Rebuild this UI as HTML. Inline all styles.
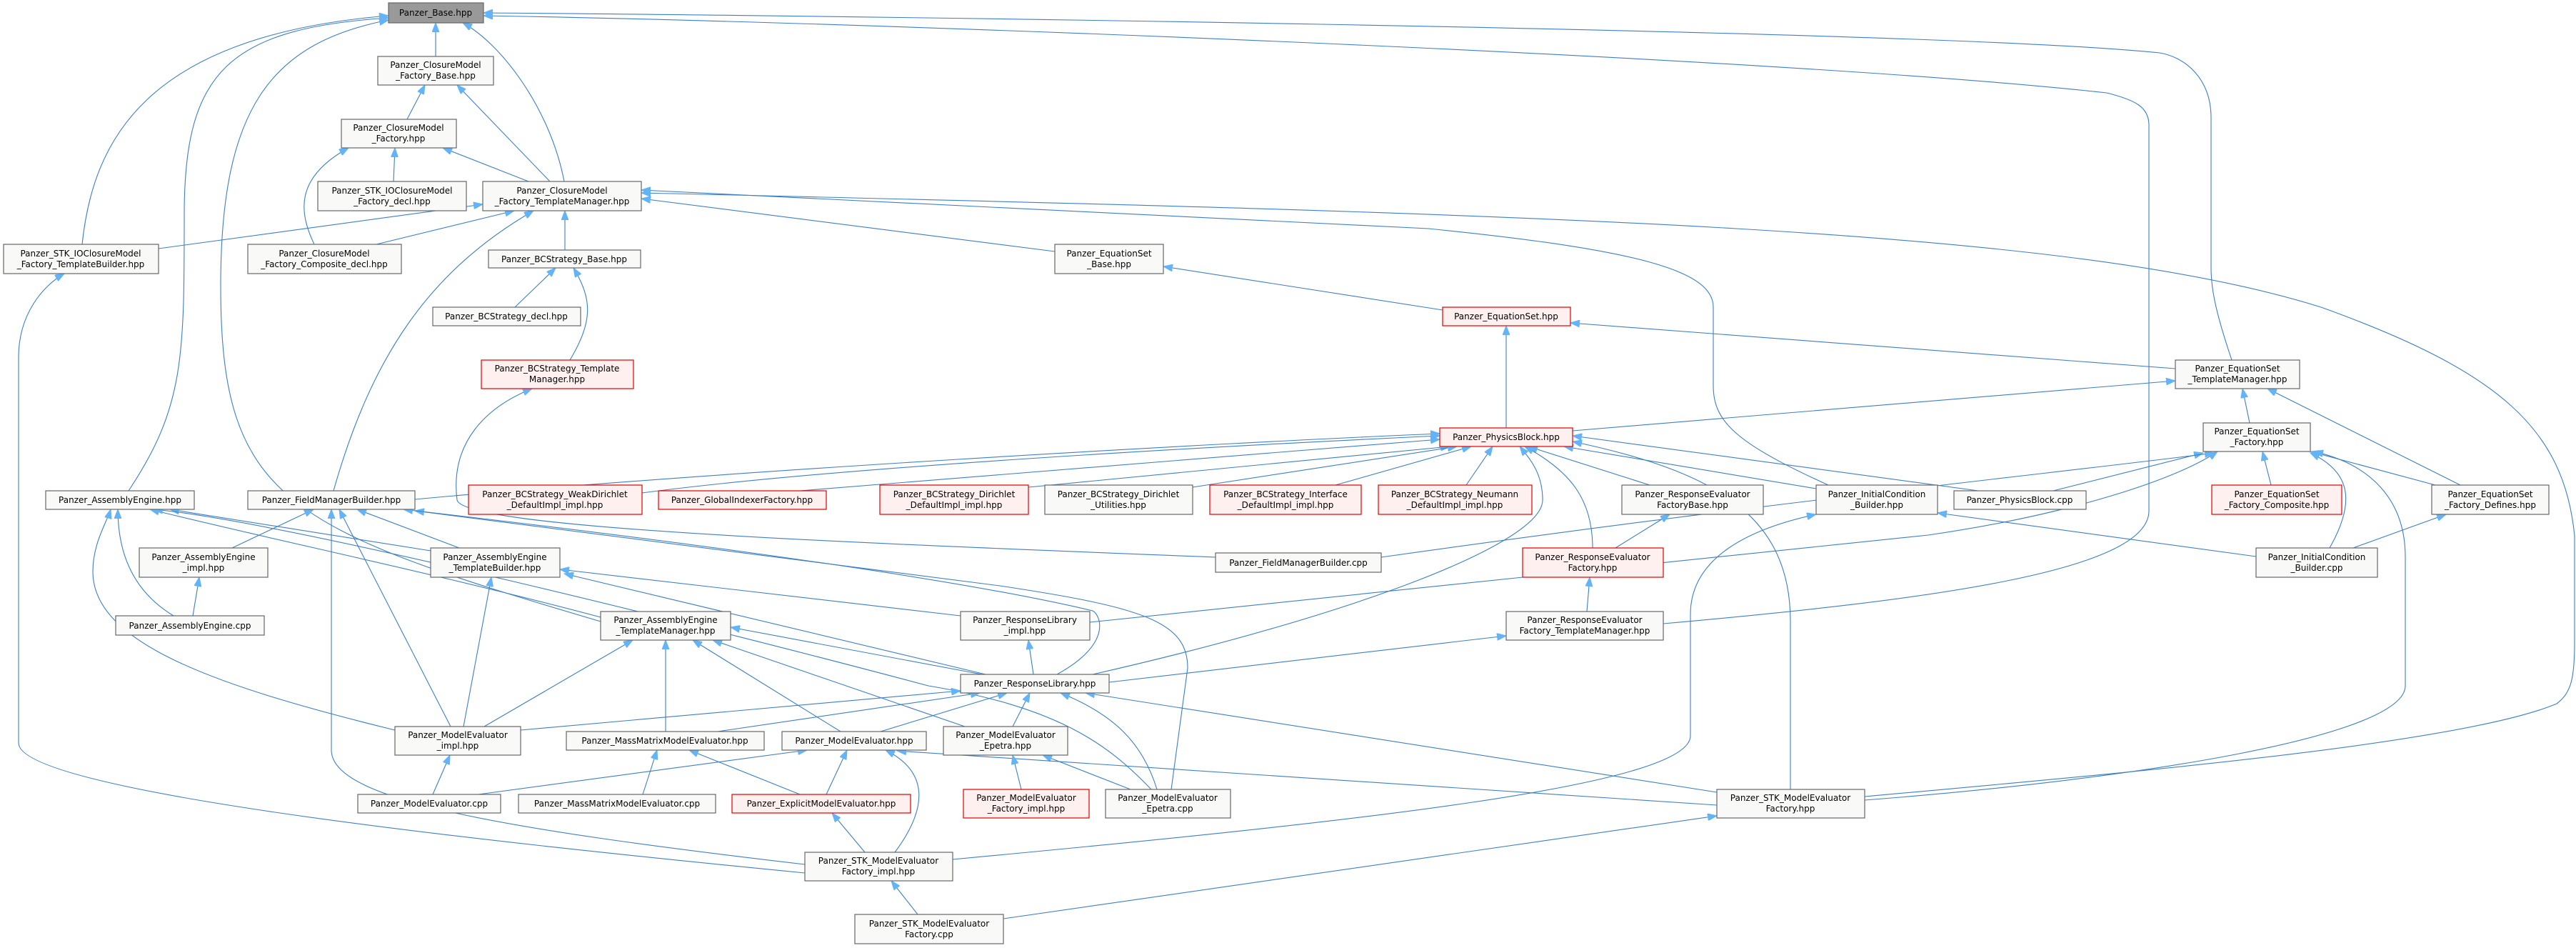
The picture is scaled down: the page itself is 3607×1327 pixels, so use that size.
<!DOCTYPE html>
<html><head><meta charset="utf-8"><style>
html,body{margin:0;padding:0;background:#fff;}
svg{display:block;}
text{font-family:"DejaVu Sans","Liberation Sans",sans-serif;font-size:12px;fill:#000;text-anchor:middle;}
.n{fill:#f9faf8;stroke:#666;stroke-width:1.2;}
.r{fill:#fff0f0;stroke:#e00000;stroke-width:1.2;}
.g{fill:#999;stroke:#666;stroke-width:1.2;}
path{fill:none;stroke:#3d7fc4;stroke-width:1.1;marker-end:url(#a);}
</style></head><body>
<svg width="3607" height="1327" viewBox="0 0 3607 1327" xmlns="http://www.w3.org/2000/svg">
<defs><marker id="a" markerUnits="userSpaceOnUse" markerWidth="14" markerHeight="10" refX="13" refY="5" orient="auto"><path d="M0,0 L13,5 L0,10 Z" style="fill:#63b3f7;stroke:#63b3f7;stroke-width:1;marker-end:none"/></marker></defs>

<!-- edges -->
<path d="M610,79 L610,32"/>
<path d="M790,254 C770,150 700,60 648,32"/>
<path d="M115,342 C130,200 200,50 544,22"/>
<path d="M180,687 C258,570 258,500 258,300 C258,100 320,40 544,25"/>
<path d="M841,870 C400,740 309,700 309,400 C309,150 380,60 544,28"/>
<path d="M3125,504 C3100,430 3096,400 3096,375 L3096,165 C3096,110 3060,80 3024,74 C2700,40 1000,20 677,18"/>
<path d="M2329,873 C2700,840 3009,800 3009,715 L3009,175 C3009,150 2990,140 2950,130 C2500,80 1200,30 677,22"/>
<path d="M770,254 L640,119"/>
<path d="M570,167 L595,119"/>
<path d="M551,254 L553,207"/>
<path d="M740,254 L620,207"/>
<path d="M440,342 C420,300 410,250 488,207"/>
<path d="M222,348 L676,286"/>
<path d="M527,342 L720,295"/>
<path d="M467,687 C520,500 600,380 747,295"/>
<path d="M791,350 L791,295"/>
<path d="M1477,352 L898,278"/>
<path d="M2560,679 C2430,620 2399,590 2399,540 L2399,430 C2399,380 2300,350 2000,320 L898,266"/>
<path d="M2611,1115 C3000,1080 3450,1040 3580,985 C3600,970 3605,950 3605,900 L3605,750 C3590,600 3500,520 3250,430 C2900,320 2200,300 898,270"/>
<path d="M721,430 L778,375"/>
<path d="M798,504 C830,450 830,420 803,375"/>
<path d="M1702,780 C1200,760 650,740 640,700 C630,620 680,570 745,544"/>
<path d="M2020,434 L1629,373"/>
<path d="M2109,599 L2109,456"/>
<path d="M3046,516 L2199,452"/>
<path d="M2202,603 L3046,533"/>
<path d="M3150,592 L3140,544"/>
<path d="M3445,679 L3175,544"/>
<path d="M3180,679 L3168,632"/>
<path d="M3410,679 L3235,632"/>
<path d="M2875,687 L3085,634"/>
<path d="M3262,767 C3300,700 3290,660 3235,634"/>
<path d="M3295,767 L3425,720"/>
<path d="M3159,779 L2713,718"/>
<path d="M1934,780 C2500,700 2900,660 3100,634"/>
<path d="M2611,1120 C3000,1090 3368,1030 3368,960 L3368,780 C3368,700 3320,650 3240,632"/>
<path d="M1526,871 L2700,749 C2900,720 3050,670 3105,632"/>
<path d="M1334,1203 C1900,1150 2367,1100 2367,1030 L2367,860 C2367,780 2450,740 2543,720"/>
<path d="M899,690 C1200,650 1800,620 2016,610"/>
<path d="M1120,687 L2016,615"/>
<path d="M1440,682 L2030,625"/>
<path d="M1670,682 L2040,625"/>
<path d="M1870,679 L2060,625"/>
<path d="M2053,679 L2090,625"/>
<path d="M2310,679 L2140,625"/>
<path d="M2543,684 L2190,625"/>
<path d="M2770,687 L2202,610"/>
<path d="M581,699 C1000,660 1700,620 2016,607"/>
<path d="M1530,944 C1900,860 2160,760 2160,700 C2160,660 2140,640 2128,625"/>
<path d="M2230,767 C2230,700 2200,660 2135,625"/>
<path d="M2507,1105 L2507,870 C2507,720 2400,660 2202,618"/>
<path d="M2262,767 L2338,720"/>
<path d="M2222,856 L2226,808"/>
<path d="M325,767 L439,713"/>
<path d="M270,862 L279,808"/>
<path d="M243,862 C190,830 165,780 165,713"/>
<path d="M553,1022 C300,960 130,900 130,800 C130,760 150,730 155,713"/>
<path d="M603,771 L238,713"/>
<path d="M841,864 C600,800 400,760 210,713"/>
<path d="M643,767 L500,713"/>
<path d="M631,1017 L475,713"/>
<path d="M1127,1210 C700,1160 464,1120 464,1050 L464,713"/>
<path d="M1345,862 L784,797"/>
<path d="M1380,944 L790,803"/>
<path d="M649,1017 L688,808"/>
<path d="M678,1017 L886,896"/>
<path d="M932,1024 L932,896"/>
<path d="M1177,1024 L970,896"/>
<path d="M1351,1017 L998,896"/>
<path d="M1375,944 L1023,878"/>
<path d="M1612,1105 C1550,1040 1480,990 1300,960 C1000,880 400,730 215,713"/>
<path d="M1640,1105 L1663,935 C1663,870 1600,850 1400,820 C1000,770 700,730 581,715"/>
<path d="M1480,944 C1560,900 1540,860 1530,855 C1300,800 800,740 565,713"/>
<path d="M1620,1105 C1600,1040 1560,1000 1485,970"/>
<path d="M1583,1105 L1460,1057"/>
<path d="M2404,1127 L1256,1051"/>
<path d="M1430,1105 L1418,1057"/>
<path d="M1418,1017 L1442,970"/>
<path d="M1233,1024 L1410,970"/>
<path d="M1005,1024 L1372,970"/>
<path d="M729,1022 L1345,967"/>
<path d="M2404,1109 L1520,970"/>
<path d="M1447,944 L1440,896"/>
<path d="M1553,955 L2109,890"/>
<path d="M1253,1193 C1300,1130 1300,1080 1240,1050"/>
<path d="M1211,1193 L1165,1138"/>
<path d="M1157,1112 L1186,1050"/>
<path d="M1120,1112 L965,1050"/>
<path d="M606,1112 L630,1057"/>
<path d="M670,1112 L1130,1050"/>
<path d="M900,1112 L920,1050"/>
<path d="M1285,1280 L1248,1233"/>
<path d="M1405,1286 L2404,1142"/>
<path d="M1127,1222 C700,1180 26,1110 26,1040 L26,500 C26,440 60,400 90,383"/>

<!-- nodes -->
<rect class="g" x="544" y="4" width="133" height="28"/><text x="610" y="22">Panzer_Base.hpp</text>
<rect class="n" x="529" y="79" width="162" height="40"/><text x="610" y="95">Panzer_ClosureModel</text><text x="610" y="110">_Factory_Base.hpp</text>
<rect class="n" x="478" y="167" width="161" height="40"/><text x="558" y="183">Panzer_ClosureModel</text><text x="558" y="198">_Factory.hpp</text>
<rect class="n" x="445" y="254" width="208" height="41"/><text x="549" y="271">Panzer_STK_IOClosureModel</text><text x="549" y="286">_Factory_decl.hpp</text>
<rect class="n" x="676" y="254" width="222" height="41"/><text x="787" y="271">Panzer_ClosureModel</text><text x="787" y="286">_Factory_TemplateManager.hpp</text>
<rect class="n" x="5" y="342" width="217" height="41"/><text x="113" y="359">Panzer_STK_IOClosureModel</text><text x="113" y="374">_Factory_TemplateBuilder.hpp</text>
<rect class="n" x="347" y="342" width="215" height="41"/><text x="454" y="359">Panzer_ClosureModel</text><text x="454" y="374">_Factory_Composite_decl.hpp</text>
<rect class="n" x="684" y="350" width="213" height="25"/><text x="790" y="367">Panzer_BCStrategy_Base.hpp</text>
<rect class="n" x="606" y="430" width="207" height="26"/><text x="709" y="447">Panzer_BCStrategy_decl.hpp</text>
<rect class="r" x="674" y="504" width="213" height="40"/><text x="780" y="520">Panzer_BCStrategy_Template</text><text x="780" y="535">Manager.hpp</text>
<rect class="n" x="1477" y="342" width="152" height="41"/><text x="1553" y="359">Panzer_EquationSet</text><text x="1553" y="374">_Base.hpp</text>
<rect class="r" x="2020" y="430" width="179" height="26"/><text x="2109" y="447">Panzer_EquationSet.hpp</text>
<rect class="n" x="3046" y="504" width="174" height="40"/><text x="3133" y="520">Panzer_EquationSet</text><text x="3133" y="535">_TemplateManager.hpp</text>
<rect class="r" x="2016" y="599" width="186" height="26"/><text x="2109" y="616">Panzer_PhysicsBlock.hpp</text>
<rect class="n" x="3085" y="592" width="150" height="40"/><text x="3160" y="608">Panzer_EquationSet</text><text x="3160" y="623">_Factory.hpp</text>
<rect class="n" x="64" y="687" width="208" height="26"/><text x="168" y="704">Panzer_AssemblyEngine.hpp</text>
<rect class="n" x="347" y="687" width="234" height="26"/><text x="464" y="704">Panzer_FieldManagerBuilder.hpp</text>
<rect class="r" x="656" y="679" width="243" height="41"/><text x="777" y="696">Panzer_BCStrategy_WeakDirichlet</text><text x="777" y="711">_DefaultImpl_impl.hpp</text>
<rect class="r" x="922" y="687" width="235" height="26"/><text x="1039" y="704">Panzer_GlobalIndexerFactory.hpp</text>
<rect class="r" x="1232" y="679" width="208" height="41"/><text x="1336" y="696">Panzer_BCStrategy_Dirichlet</text><text x="1336" y="711">_DefaultImpl_impl.hpp</text>
<rect class="n" x="1463" y="679" width="207" height="41"/><text x="1566" y="696">Panzer_BCStrategy_Dirichlet</text><text x="1566" y="711">_Utilities.hpp</text>
<rect class="r" x="1694" y="679" width="212" height="41"/><text x="1800" y="696">Panzer_BCStrategy_Interface</text><text x="1800" y="711">_DefaultImpl_impl.hpp</text>
<rect class="r" x="1930" y="679" width="215" height="41"/><text x="2037" y="696">Panzer_BCStrategy_Neumann</text><text x="2037" y="711">_DefaultImpl_impl.hpp</text>
<rect class="n" x="2271" y="679" width="198" height="41"/><text x="2370" y="696">Panzer_ResponseEvaluator</text><text x="2370" y="711">FactoryBase.hpp</text>
<rect class="n" x="2543" y="679" width="170" height="41"/><text x="2628" y="696">Panzer_InitialCondition</text><text x="2628" y="711">_Builder.hpp</text>
<rect class="n" x="2736" y="687" width="185" height="26"/><text x="2828" y="704">Panzer_PhysicsBlock.cpp</text>
<rect class="r" x="3097" y="679" width="182" height="41"/><text x="3188" y="696">Panzer_EquationSet</text><text x="3188" y="711">_Factory_Composite.hpp</text>
<rect class="n" x="3405" y="679" width="164" height="41"/><text x="3487" y="696">Panzer_EquationSet</text><text x="3487" y="711">_Factory_Defines.hpp</text>
<rect class="n" x="195" y="767" width="180" height="41"/><text x="285" y="784">Panzer_AssemblyEngine</text><text x="285" y="799">_impl.hpp</text>
<rect class="n" x="603" y="767" width="181" height="41"/><text x="693" y="784">Panzer_AssemblyEngine</text><text x="693" y="799">_TemplateBuilder.hpp</text>
<rect class="n" x="1702" y="774" width="232" height="27"/><text x="1818" y="792">Panzer_FieldManagerBuilder.cpp</text>
<rect class="r" x="2132" y="767" width="197" height="41"/><text x="2230" y="784">Panzer_ResponseEvaluator</text><text x="2230" y="799">Factory.hpp</text>
<rect class="n" x="3159" y="767" width="170" height="41"/><text x="3244" y="784">Panzer_InitialCondition</text><text x="3244" y="799">_Builder.cpp</text>
<rect class="n" x="162" y="862" width="208" height="27"/><text x="266" y="880">Panzer_AssemblyEngine.cpp</text>
<rect class="n" x="841" y="856" width="182" height="40"/><text x="932" y="872">Panzer_AssemblyEngine</text><text x="932" y="887">_TemplateManager.hpp</text>
<rect class="n" x="1345" y="856" width="181" height="40"/><text x="1435" y="872">Panzer_ResponseLibrary</text><text x="1435" y="887">_impl.hpp</text>
<rect class="n" x="2109" y="856" width="220" height="40"/><text x="2219" y="872">Panzer_ResponseEvaluator</text><text x="2219" y="887">Factory_TemplateManager.hpp</text>
<rect class="n" x="1345" y="944" width="208" height="26"/><text x="1449" y="961">Panzer_ResponseLibrary.hpp</text>
<rect class="n" x="553" y="1017" width="176" height="40"/><text x="641" y="1033">Panzer_ModelEvaluator</text><text x="641" y="1048">_impl.hpp</text>
<rect class="n" x="793" y="1024" width="277" height="26"/><text x="931" y="1041">Panzer_MassMatrixModelEvaluator.hpp</text>
<rect class="n" x="1095" y="1024" width="202" height="26"/><text x="1196" y="1041">Panzer_ModelEvaluator.hpp</text>
<rect class="n" x="1321" y="1017" width="174" height="40"/><text x="1408" y="1033">Panzer_ModelEvaluator</text><text x="1408" y="1048">_Epetra.hpp</text>
<rect class="n" x="501" y="1112" width="200" height="26"/><text x="601" y="1129">Panzer_ModelEvaluator.cpp</text>
<rect class="n" x="726" y="1112" width="276" height="26"/><text x="864" y="1129">Panzer_MassMatrixModelEvaluator.cpp</text>
<rect class="r" x="1025" y="1112" width="250" height="26"/><text x="1150" y="1129">Panzer_ExplicitModelEvaluator.hpp</text>
<rect class="r" x="1349" y="1105" width="176" height="40"/><text x="1437" y="1121">Panzer_ModelEvaluator</text><text x="1437" y="1136">_Factory_impl.hpp</text>
<rect class="n" x="1548" y="1105" width="175" height="40"/><text x="1635" y="1121">Panzer_ModelEvaluator</text><text x="1635" y="1136">_Epetra.cpp</text>
<rect class="n" x="2404" y="1105" width="207" height="40"/><text x="2507" y="1121">Panzer_STK_ModelEvaluator</text><text x="2507" y="1136">Factory.hpp</text>
<rect class="n" x="1127" y="1193" width="207" height="40"/><text x="1230" y="1209">Panzer_STK_ModelEvaluator</text><text x="1230" y="1224">Factory_impl.hpp</text>
<rect class="n" x="1197" y="1280" width="208" height="41"/><text x="1301" y="1297">Panzer_STK_ModelEvaluator</text><text x="1301" y="1312">Factory.cpp</text>
</svg>
</body></html>
